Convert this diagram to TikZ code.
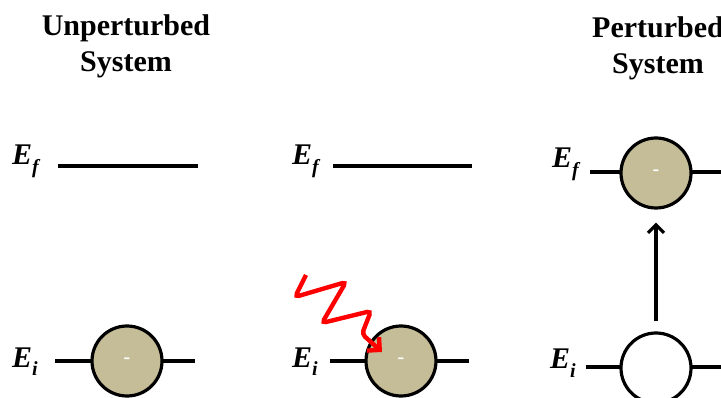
\documentclass[tikz,border=0pt]{standalone}
\usepackage{fontspec}
\setmainfont{Liberation Serif}
\usetikzlibrary{arrows.meta}
\definecolor{electron}{HTML}{C4BD97}
\tikzset{
  level/.style={line width=4.5pt},
  particle/.style={circle, draw=black, line width=3.2pt, fill=electron,
    minimum size=70pt, inner sep=0pt, text=white,
    font=\fontsize{20}{20}\selectfont\bfseries},
  hole/.style={particle, fill=white},
  heading/.style={align=center, font=\fontsize{30}{36}\selectfont\bfseries},
  elabel/.style={anchor=base west, inner sep=0pt,
    font=\fontsize{30}{30}\selectfont\bfseries\itshape},
  photon/.style={red, line width=4.4pt, rounded corners=4pt,
    -{Straight Barb[length=9pt,width=18pt,line width=4.4pt]}},
  excite/.style={line width=3.2pt, -{Straight Barb[length=8pt,width=16pt]}}
}
\newcommand{\Elev}[1]{E\raisebox{-0.3em}{\fontsize{20}{20}\selectfont #1}}
\begin{document}
\begin{tikzpicture}[x=1pt,y=-1pt]
\useasboundingbox (0,0) rectangle (721,398);
\clip (0,0) rectangle (721,398);

% headings (base anchor sits on the last line)
\node[heading, anchor=base] (hU) at (126,72) {Unperturbed\\System};
\node[heading, anchor=base] (hP) at (658,74) {Perturbed\\System};

% ---- left panel: unperturbed ----
\node[elabel] (lf1) at (12,165) {\Elev{f}};
\coordinate (f1a) at (58,166); \coordinate (f1b) at (198,166);
\draw[level] (f1a) -- (f1b);
\node[elabel] (li1) at (12,367) {\Elev{i}};
\coordinate (i1a) at (55,361); \coordinate (i1b) at (195,361);
\draw[level] (i1a) -- (i1b);
\node[particle] (p1) at (127,361) {-};

% ---- middle panel: photon arrives ----
\node[elabel] (lf2) at (292,165) {\Elev{f}};
\coordinate (f2a) at (333,166); \coordinate (f2b) at (472,166);
\draw[level] (f2a) -- (f2b);
\node[elabel] (li2) at (292,367) {\Elev{i}};
\coordinate (i2a) at (330,361); \coordinate (i2b) at (469,361);
\draw[level] (i2a) -- (i2b);
\node[particle] (p2) at (401,361) {-};
\coordinate (ph0) at (306,275);
\coordinate (ph6) at (382,352);
\draw[photon] (ph0) -- (295,297) -- (346,282) -- (322,323) -- (371,311)
  -- (362,334) -- (ph6);

% ---- right panel: perturbed ----
\node[elabel] (lf3) at (552,168) {\Elev{f}};
\coordinate (f3a) at (590,172); \coordinate (f3b) at (721,172);
\draw[level] (f3a) -- (f3b);
\node[elabel] (li3) at (550,369) {\Elev{i}};
\coordinate (i3a) at (586,367); \coordinate (i3b) at (721,367);
\draw[level] (i3a) -- (i3b);
\node[particle] (p3) at (656,173) {-};
\node[hole] (h3) at (656,368) {};
\draw[excite, shorten <=10pt, shorten >=13pt] (h3) -- (p3);
\end{tikzpicture}
\end{document}
